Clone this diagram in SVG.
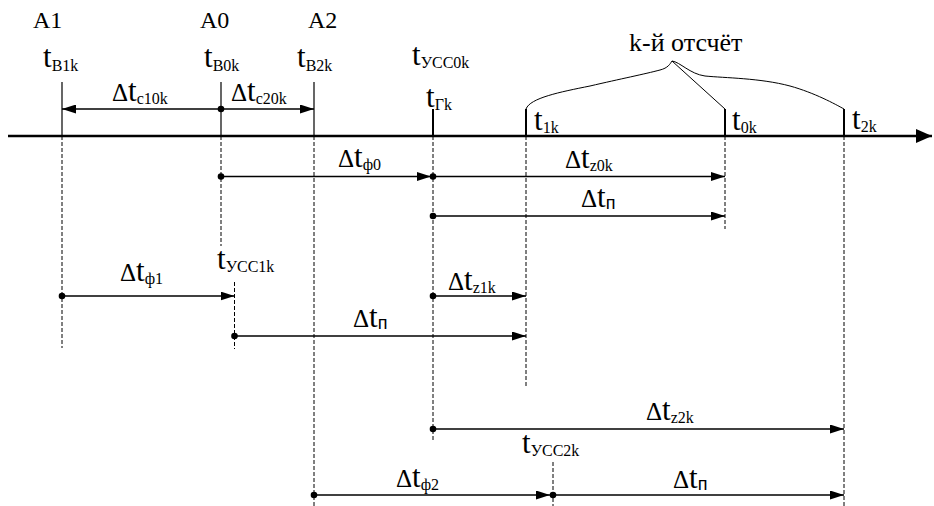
<svg xmlns="http://www.w3.org/2000/svg" width="934" height="506" viewBox="0 0 934 506">
<defs>
<marker id="ah" viewBox="0 0 14 9" refX="14" refY="4.5" markerWidth="14" markerHeight="9" markerUnits="userSpaceOnUse" orient="auto-start-reverse">
<path d="M0,0 L14,4.5 L0,9 Z" fill="#000"/>
</marker>
<marker id="big" viewBox="0 0 16 14" refX="16" refY="7" markerWidth="16" markerHeight="14" markerUnits="userSpaceOnUse" orient="auto">
<path d="M0,0 L16,7 L0,14 Z" fill="#000"/>
</marker>
</defs>
<style>
.lbl{font-family:'Liberation Serif','DejaVu Serif','Times New Roman',Times,serif;fill:#000}
.t{font-size:31px}
.a{font-size:24px}
.k{font-size:26px}
.d{font-size:25px}
.s{font-size:16px}
.p{font-size:18px;font-family:'Liberation Sans',Arial,sans-serif}
.dash{stroke:#000;stroke-width:1;stroke-dasharray:4,2;fill:none}
.thin{stroke:#000;stroke-width:1.2;fill:none}
.tick{stroke:#000;stroke-width:2;fill:none}
.arr{stroke:#000;stroke-width:1.6;fill:none;marker-end:url(#ah)}
.axis{stroke:#000;stroke-width:2.5;fill:none;marker-end:url(#big)}
.brace{stroke:#000;stroke-width:1;fill:none}
circle{fill:#000}
</style>

<g id="axis">
<line class="axis" x1="8" y1="136" x2="932" y2="136"/>
</g>

<g id="guides">
<line class="thin" x1="62" y1="82" x2="62" y2="136"/>
<line class="thin" x1="221" y1="82" x2="221" y2="136"/>
<line class="thin" x1="314" y1="82" x2="314" y2="136"/>
<line class="tick" x1="433" y1="109" x2="433" y2="136"/>
<line class="tick" x1="526" y1="109" x2="526" y2="136"/>
<line class="tick" x1="725" y1="109" x2="725" y2="136"/>
<line class="tick" x1="844" y1="109" x2="844" y2="136"/>
<line class="dash" x1="62" y1="136" x2="62" y2="348"/>
<line class="dash" x1="221" y1="136" x2="221" y2="246"/>
<line class="dash" x1="234.5" y1="282" x2="234.5" y2="349"/>
<line class="dash" x1="314" y1="136" x2="314" y2="506"/>
<line class="dash" x1="433" y1="136" x2="433" y2="442"/>
<line class="dash" x1="526" y1="136" x2="526" y2="388"/>
<line class="dash" x1="553" y1="462" x2="553" y2="506"/>
<line class="dash" x1="725" y1="136" x2="725" y2="229"/>
<line class="dash" x1="844" y1="136" x2="844" y2="506"/>
</g>

<g id="brace">
<path class="brace" d="M526,109 C530,98 560,92 590,86 C620,79 645,74 660,70 C668,68 670,64 672,61"/>
<path class="brace" d="M672,61 L725,109"/>
<path class="brace" d="M672,61 C680,62 690,74 705,76 C725,78 760,78 790,86 C815,93 835,104 844,109"/>
</g>

<g id="connectors">
<line class="arr" x1="221" y1="109" x2="62" y2="109"/>
<line class="arr" x1="221" y1="109" x2="314" y2="109"/>
<line class="arr" x1="221" y1="176.5" x2="431" y2="176.5"/>
<line class="arr" x1="433" y1="176.5" x2="725" y2="176.5"/>
<line class="arr" x1="433" y1="216" x2="725" y2="216"/>
<line class="arr" x1="62" y1="296" x2="234.5" y2="296"/>
<line class="arr" x1="433" y1="296" x2="526" y2="296"/>
<line class="arr" x1="234.5" y1="336" x2="526" y2="336"/>
<line class="arr" x1="433" y1="429" x2="844" y2="429"/>
<line class="arr" x1="314" y1="495" x2="550" y2="495"/>
<line class="arr" x1="553" y1="495" x2="844" y2="495"/>
<circle cx="221" cy="109" r="3.3"/>
<circle cx="221" cy="176.5" r="3.3"/>
<circle cx="433" cy="176.5" r="3.3"/>
<circle cx="433" cy="216" r="3.3"/>
<circle cx="62" cy="296" r="3.3"/>
<circle cx="433" cy="296" r="3.3"/>
<circle cx="234.5" cy="336" r="3.3"/>
<circle cx="433" cy="429" r="3.3"/>
<circle cx="314" cy="495" r="3.3"/>
<circle cx="553" cy="495" r="3.3"/>
</g>

<g id="labels-top" class="lbl" font-family="Liberation Serif, DejaVu Serif, serif">
<text class="a" x="33" y="28">A1</text>
<text class="a" x="200" y="28">A0</text>
<text class="a" x="308" y="28">A2</text>
<text class="k" x="629" y="51">k-й отсчёт</text>
<text class="t" x="43" y="67">t<tspan class="s" dy="4">B1k</tspan></text>
<text class="t" x="204" y="67">t<tspan class="s" dy="4">B0k</tspan></text>
<text class="t" x="297" y="67">t<tspan class="s" dy="4">B2k</tspan></text>
<text class="t" x="412" y="65">t<tspan class="s" dy="3">УСС0k</tspan></text>
<text class="t" x="426" y="107">t<tspan class="s" dy="3">Гk</tspan></text>
<text class="t" x="534" y="130">t<tspan class="s" dy="3">1k</tspan></text>
<text class="t" x="732" y="130">t<tspan class="s" dy="3">0k</tspan></text>
<text class="t" x="852" y="129">t<tspan class="s" dy="3">2k</tspan></text>
</g>

<g id="labels-intervals" class="lbl" font-family="Liberation Serif, DejaVu Serif, serif">
<text class="t" x="112" y="101"><tspan class="d">Δ</tspan>t<tspan class="s" dy="3">c10k</tspan></text>
<text class="t" x="231" y="101"><tspan class="d">Δ</tspan>t<tspan class="s" dy="3">c20k</tspan></text>
<text class="t" x="338" y="167"><tspan class="d">Δ</tspan>t<tspan class="s" dy="3">ф0</tspan></text>
<text class="t" x="565" y="168"><tspan class="d">Δ</tspan>t<tspan class="s" dy="3">z0k</tspan></text>
<text class="t" x="581" y="207"><tspan class="d">Δ</tspan>t<tspan class="p" dy="2">п</tspan></text>
<text class="t" x="120" y="281"><tspan class="d">Δ</tspan>t<tspan class="s" dy="3">ф1</tspan></text>
<text class="t" x="217" y="269">t<tspan class="s" dy="3">УСС1k</tspan></text>
<text class="t" x="448" y="290"><tspan class="d">Δ</tspan>t<tspan class="s" dy="3">z1k</tspan></text>
<text class="t" x="353" y="327"><tspan class="d">Δ</tspan>t<tspan class="p" dy="2">п</tspan></text>
<text class="t" x="646" y="420"><tspan class="d">Δ</tspan>t<tspan class="s" dy="3">z2k</tspan></text>
<text class="t" x="522" y="453">t<tspan class="s" dy="3">УСС2k</tspan></text>
<text class="t" x="396" y="487"><tspan class="d">Δ</tspan>t<tspan class="s" dy="3">ф2</tspan></text>
<text class="t" x="673" y="488"><tspan class="d">Δ</tspan>t<tspan class="p" dy="2">п</tspan></text>
</g>
</svg>
